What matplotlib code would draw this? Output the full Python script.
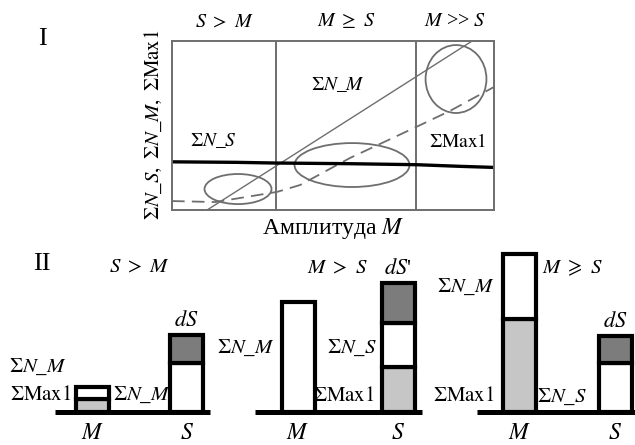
import matplotlib
matplotlib.use("Agg")
import matplotlib.pyplot as plt
from matplotlib.patches import Ellipse
from matplotlib.transforms import blended_transform_factory

plt.rcParams["font.family"] = ["Liberation Serif", "DejaVu Serif"]
plt.rcParams["mathtext.fontset"] = "stix"

# ---------------- Panel I: schematic curves vs amplitude M ----------------
regime_edges = [3.23, 7.58]
regime_titles = [r"$S\ >\ M$", r"$M\ \geq\ S$", r"$M$ >> $S$"]

# sum of N_S: nearly constant, slight decrease with amplitude
ns_x = [0.0, 2.0, 3.2, 5.5, 7.6, 9.0, 10.0]
ns_y = [2.85, 2.82, 2.78, 2.74, 2.68, 2.58, 2.52]

# sum of N_M: grows linearly
nm_x = [1.09, 9.32]
nm_y = [0.0, 10.0]

# sum of Max1: flat at small M, then rising
mx_x = [0.0, 1.34, 2.11, 3.26, 3.98, 5.53, 7.58, 8.63, 10.0]
mx_y = [0.53, 0.47, 0.71, 1.07, 1.48, 3.08, 4.91, 5.86, 7.28]

# highlighted zones (center x, center y, width, height)
zone_cx = [2.05, 5.59, 8.82]
zone_cy = [1.24, 2.66, 7.75]
zone_w = [2.08, 3.57, 1.89]
zone_h = [1.78, 2.60, 4.02]

curve_labels = [r"$\Sigma N\_S$", r"$\Sigma N\_M$", r"$\Sigma\mathrm{Max1}$"]
curve_label_x = [1.30, 5.16, 8.88]
curve_label_y = [4.14, 7.40, 4.02]

# ---------------- Panel II: stacked bars for M and S ----------------
group_titles = [r"$S\ >\ M$", r"$M\ >\ S$", r"$M\ \geqslant\ S$"]
bar_categories = [r"$M$", r"$S$"]
max1_M = [0.84, 0.0, 5.81]
nsum_M = [0.72, 6.88, 4.07]
max1_S = [0.0, 2.81, 0.0]
nsum_S = [3.06, 2.75, 3.06]
dS_S = [1.75, 2.50, 1.69]
dS_names = [r"$dS$", r"$dS$'", r"$dS$"]

W, H = 635, 445
fig = plt.figure(figsize=(W / 100, H / 100), dpi=100)


def px_axes(left, top, right, bottom):
    return fig.add_axes([left / W, 1 - bottom / H, (right - left) / W, (bottom - top) / H])


gray = "#6e6e6e"
ax = px_axes(172, 41, 494, 210)
ax.set_xlim(0, 10)
ax.set_ylim(0, 10)
ax.set_xticks([])
ax.set_yticks([])
for s in ax.spines.values():
    s.set_color(gray)
    s.set_linewidth(1.4)
for xe in regime_edges:
    ax.axvline(xe, color=gray, lw=1.4)

ax.plot(mx_x, mx_y, color=gray, lw=1.3, dashes=(7, 4))
ax.plot(nm_x, nm_y, color=gray, lw=1.0)
ax.plot(ns_x, ns_y, color="black", lw=2.4)
for cx, cy, w, h in zip(zone_cx, zone_cy, zone_w, zone_h):
    ax.add_patch(Ellipse((cx, cy), w, h, fill=False, ec=gray, lw=1.3))
for lab, lx, ly in zip(curve_labels, curve_label_x, curve_label_y):
    ax.text(lx, ly, lab, ha="center", va="center", fontsize=14)

bounds = [0.0] + regime_edges + [10.0]
tr = blended_transform_factory(ax.transData, ax.transAxes)
for i, t in enumerate(regime_titles):
    ax.text((bounds[i] + bounds[i + 1]) / 2, 1.115, t, transform=tr,
            ha="center", va="center", fontsize=14.5)

ax.set_xlabel(r"Амплитуда $M$", fontsize=17, labelpad=4)
fig.text(153 / W, 1 - 125 / H, r"$\Sigma N\_S,\ \Sigma N\_M,\ \Sigma\mathrm{Max1}$",
         rotation=90, ha="center", va="center", fontsize=15)
fig.text(42 / W, 1 - 39 / H, "I", ha="center", va="center", fontsize=19)
fig.text(42 / W, 1 - 264 / H, "II", ha="center", va="center", fontsize=19)

# ---------------- Panel II layout ----------------
base_px = 412
unit_px = 16.0
groups_px = [  # baseline left, baseline right, M center, spacing
    (55, 210, 92.5, 94),
    (255, 422, 298, 100),
    (477, 635, 519.5, 96),
]
light, dark = "#c6c6c6", "#7c7c7c"
bw_px = 33
top_px = 240

axes2 = []
for g, (bl, br, mc, sp) in enumerate(groups_px):
    a = px_axes(bl, top_px, br, base_px)
    a.set_xlim((bl - mc) / sp, (br - mc) / sp)
    a.set_ylim(0, (base_px - top_px) / unit_px)
    a.patch.set_visible(False)
    for k in ["left", "right", "top"]:
        a.spines[k].set_visible(False)
    a.spines["bottom"].set_linewidth(3.6)
    a.spines["bottom"].set_capstyle("butt")
    a.set_yticks([])
    a.set_xticks([0, 1])
    a.set_xticklabels(bar_categories, fontsize=17)
    a.tick_params(axis="x", length=0, pad=8)
    bw = bw_px / sp

    def stack(x, parts):
        bottom = 0.0
        for h, c in parts:
            if h > 0:
                a.bar(x, h, bw, bottom=bottom, color=c, edgecolor="black",
                      linewidth=3, clip_on=False, zorder=3)
            bottom += h
        return bottom

    topM = stack(0, [(max1_M[g], light), (nsum_M[g], "white")])
    topS = stack(1, [(max1_S[g], light), (nsum_S[g], "white"), (dS_S[g], dark)])
    a.text(1, topS + 0.85, dS_names[g], ha="center", va="center", fontsize=16)
    axes2.append((a, bw, topM, topS, sp))

fs2 = 15
# group 1
a, bw, topM, topS, sp = axes2[0]
a.text(-bw / 2 - 9 / sp, 2.8, r"$\Sigma N\_M$", ha="right", va="center", fontsize=fs2)
a.text(-bw / 2 - 4 / sp, 1.06, r"$\Sigma\mathrm{Max1}$", ha="right", va="center", fontsize=fs2)
a.text(0.52, 1.06, r"$\Sigma N\_M$", ha="center", va="center", fontsize=fs2)
a.text(0.505, 9.0, group_titles[0], ha="center", va="center", fontsize=15)
# group 2
a, bw, topM, topS, sp = axes2[1]
a.text(-bw / 2 - 7 / sp, 4.0, r"$\Sigma N\_M$", ha="right", va="center", fontsize=fs2)
a.text(1 - bw / 2 - 5 / sp, 4.0, r"$\Sigma N\_S$", ha="right", va="center", fontsize=fs2)
a.text(1 - bw / 2 - 7 / sp, 0.94, r"$\Sigma\mathrm{Max1}$", ha="right", va="center", fontsize=fs2)
a.text(0.39, 8.95, group_titles[1], ha="center", va="center", fontsize=15)
# group 3
a, bw, topM, topS, sp = axes2[2]
a.text(-bw / 2 - 8 / sp, 7.8, r"$\Sigma N\_M$", ha="right", va="center", fontsize=fs2)
a.text(-bw / 2 - 8 / sp, 0.94, r"$\Sigma\mathrm{Max1}$", ha="right", va="center", fontsize=fs2)
a.text(1 - bw / 2 - 12 / sp, 0.94, r"$\Sigma N\_S$", ha="right", va="center", fontsize=fs2)
a.text(0.55, 9.0, group_titles[2], ha="center", va="center", fontsize=15)

fig.savefig("out.png", dpi=100, facecolor="white")
